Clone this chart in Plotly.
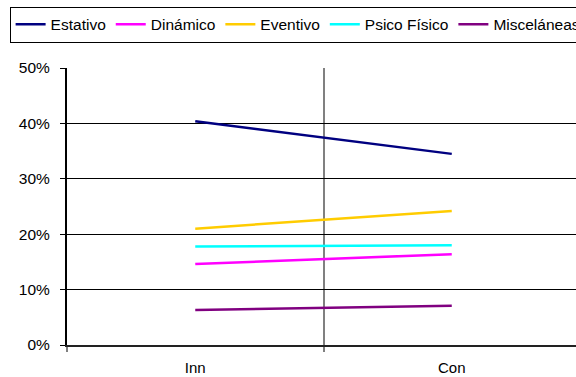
import plotly.graph_objects as go

# Share of each category, by group
groups = ["Inn", "Con"]
group_pos = [0, 1]
estativo = [0.404, 0.345]
dinamico = [0.146, 0.164]
eventivo = [0.210, 0.242]
psico_fisico = [0.178, 0.180]
miscelaneas = [0.063, 0.071]

series = [
    ("Estativo", estativo, "#000080"),
    ("Dinámico", dinamico, "#FF00FF"),
    ("Eventivo", eventivo, "#FFCC00"),
    ("Psico Físico", psico_fisico, "#00FFFF"),
    ("Misceláneas", miscelaneas, "#800080"),
]

FONT = "Liberation Sans, Arial, sans-serif"

fig = go.Figure()
for name, vals, color in series:
    fig.add_trace(go.Scatter(
        x=group_pos, y=vals, name=name, mode="lines",
        line=dict(color=color, width=2.5),
    ))

# The canvas runs past the 576px page so the plot area and legend
# continue off the right edge.
W, H = 640, 377
L, T, B = 66.5, 67.5, 32
unit = 257.0
plot_w = 2 * unit
plot_h = H - T - B
R = W - L - plot_w

fig.update_layout(
    width=W, height=H,
    margin=dict(l=L, r=R, t=T, b=B, pad=0, autoexpand=False),
    paper_bgcolor="white", plot_bgcolor="white",
    font=dict(family=FONT, size=15, color="black"),
    showlegend=True,
    legend=dict(
        orientation="h",
        x=(9 - L) / plot_w, xanchor="left",
        y=(plot_h + T - 6) / plot_h, yanchor="top",
        bordercolor="black", borderwidth=1,
        bgcolor="white",
        font=dict(family=FONT, size=15.5, color="black"),
        itemwidth=30,
    ),
    xaxis=dict(
        range=[-0.5, 1.5],
        tickvals=group_pos, ticktext=groups,
        ticks="", showgrid=False, zeroline=False,
        showline=True, linecolor="#222222", linewidth=2,
        ticklabelstandoff=8, automargin=False,
        minor=dict(
            tick0=-0.5, dtick=1, ticks="outside", ticklen=5,
            tickwidth=2, tickcolor="#808080",
            showgrid=True, gridcolor="#808080", gridwidth=2,
        ),
    ),
    yaxis=dict(
        range=[0, 0.5], dtick=0.1, tickformat=".0%",
        ticks="outside", ticklen=5, tickwidth=1, tickcolor="black",
        showgrid=True, gridcolor="black", gridwidth=1,
        zeroline=False, automargin=False,
        showline=True, linecolor="black", linewidth=2,
        ticklabelstandoff=7,
        tickfont=dict(size=15.5),
    ),
)

fig.write_html(
    "out.html",
    post_script="document.documentElement.style.overflow='hidden';"
                "document.body.style.overflow='hidden';"
                "document.body.style.margin='0';",
)
